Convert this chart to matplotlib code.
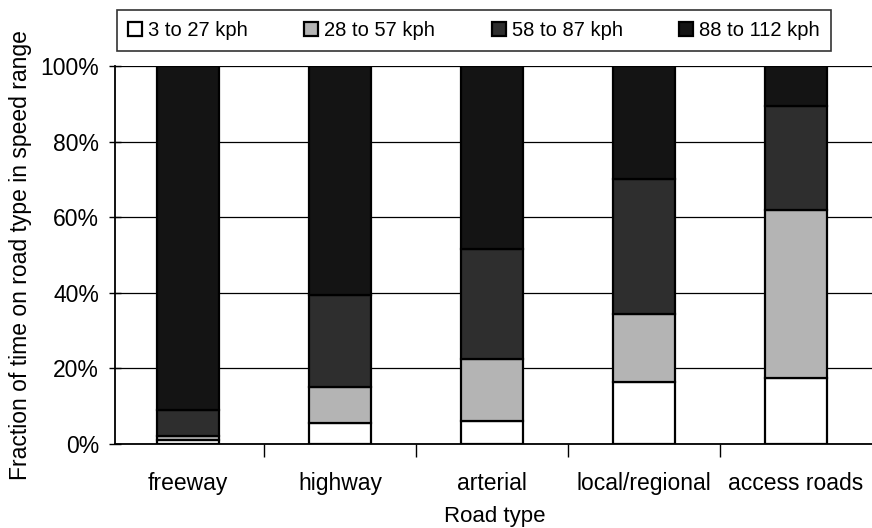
import matplotlib
matplotlib.use("Agg")
import matplotlib.pyplot as plt
import numpy as np

plt.rcParams['font.family'] = ['Liberation Sans', 'DejaVu Sans']

categories = ["freeway", "highway", "arterial", "local/regional", "access roads"]
series_names = ["3 to 27 kph", "28 to 57 kph", "58 to 87 kph", "88 to 112 kph"]
s_3_27 = [1.0, 5.5, 6.0, 16.5, 17.5]
s_28_57 = [1.0, 9.5, 16.5, 18.0, 44.5]
s_58_87 = [7.0, 24.5, 29.0, 35.5, 27.5]
s_88_112 = [91.0, 60.5, 48.5, 30.0, 10.5]
yticks = [0, 20, 40, 60, 80, 100]
ytick_labels = ["0%", "20%", "40%", "60%", "80%", "100%"]

colors = ["#ffffff", "#b4b4b4", "#2e2e2e", "#141414"]

W, H = 872, 528
fig = plt.figure(figsize=(W / 100, H / 100), dpi=100)
ax = fig.add_axes([115 / W, (H - 444) / H, 760 / W, (444 - 66) / H])

x = np.arange(len(categories))
bottom = np.zeros(len(categories))
for name, vals, c in zip(series_names, [s_3_27, s_28_57, s_58_87, s_88_112], colors):
    ax.bar(x, vals, width=0.41, bottom=bottom, color=c, edgecolor="black",
           linewidth=1.6, label=name, zorder=3)
    bottom += np.array(vals)

ax.set_xlim(-0.48, 4.52)
ax.set_ylim(0, 100)
ax.set_yticks(yticks)
ax.set_yticklabels(ytick_labels, fontsize=16.5)
ax.yaxis.grid(True, color="black", linewidth=0.9, zorder=0)
ax.set_axisbelow(True)

ax.set_xticks(x)
ax.set_xticklabels(categories, fontsize=16.5)
ax.set_xticks(np.arange(0.5, 4.5, 1.0), minor=True)
ax.tick_params(axis="x", which="major", length=0, pad=20)
ax.tick_params(axis="x", which="minor", length=9, width=1, direction="out")
ax.tick_params(axis="y", which="major", length=9, width=1, direction="inout", pad=7)

for s in ["top", "right"]:
    ax.spines[s].set_visible(False)
ax.spines["left"].set_linewidth(1.3)
ax.spines["bottom"].set_linewidth(1.3)

ax.set_ylabel("Fraction of time on road type in speed range", fontsize=16.5, labelpad=6)
ax.set_xlabel("Road type", fontsize=16, labelpad=8)

leg = fig.legend(loc="upper left", bbox_to_anchor=(117 / W, 1 - 10 / H), ncol=4,
                 fontsize=14.5, frameon=True, fancybox=False, edgecolor="black",
                 handlelength=0.7, handleheight=0.7, handletextpad=0.3,
                 columnspacing=2.8, borderpad=0.55, borderaxespad=0)
leg.get_frame().set_linewidth(1.2)

fig.savefig("out.png", dpi=100)
